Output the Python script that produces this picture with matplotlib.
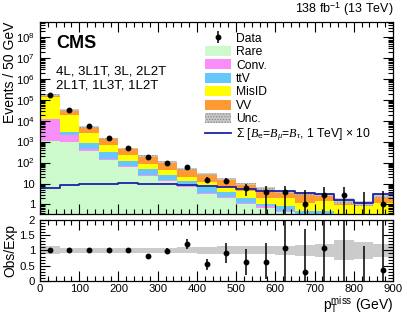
"""CMS-style stacked pTmiss distribution with Obs/Exp ratio panel."""

import matplotlib
matplotlib.use("Agg")
import matplotlib.pyplot as plt
import numpy as np
from matplotlib.lines import Line2D
from matplotlib.patches import Patch
from matplotlib.ticker import FixedLocator, FuncFormatter, MultipleLocator, LogLocator

plt.rcParams["font.family"] = ["Liberation Sans", "DejaVu Sans"]
plt.rcParams["mathtext.fontset"] = "custom"
plt.rcParams["mathtext.rm"] = "Liberation Sans"
plt.rcParams["mathtext.it"] = "Liberation Serif:italic"
plt.rcParams["mathtext.bf"] = "Liberation Sans:bold"
plt.rcParams["hatch.color"] = "#777777"
plt.rcParams["hatch.linewidth"] = 0.6

# ---- data ----
edges = np.arange(0, 901, 50)
rare = [1150, 1020, 380, 132, 59, 24, 13, 7, 3.2, 2.0, 1.0, 0.7, 0.45, 0.3, 0.3, 0.2, 0.2, 0.2]
conv = [11500, 1200, 80, 16, 7, 3, 1.5, 0.8, 0.4, 0.3, 0.2, 0.1, 0.05, 0.05, 0.05, 0.05, 0.05, 0.05]
ttv = [300, 900, 410, 177, 57, 25, 11.5, 5, 3.0, 1.5, 0.9, 0.2, 0.35, 0.15, 0.15, 0.05, 0.05, 0.05]
misid = [1.32e5, 1.59e4, 1930, 385, 102, 39, 18.5, 7, 4.9, 2.8, 2.4, 1.1, 1.25, 0.7, 1.0, 0.65, 0.55, 0.9]
vv = [2.9e4, 1.5e4, 2500, 740, 265, 123, 67, 32, 18.5, 10.4, 5.1, 3.8, 1.9, 2.1, 1.6, 0.55, 0.3, 1.4]
rel_unc = [0.13, 0.09, 0.09, 0.09, 0.09, 0.09, 0.09, 0.10, 0.11, 0.13, 0.13, 0.13,
           0.15, 0.17, 0.20, 0.33, 0.27, 0.20]
signal = [6.2, 8.8, 9.3, 9.8, 10.2, 9.8, 9.6, 8.7, 8.0, 6.6, 5.3, 4.3, 4.2, 3.5, 3.2, 1.6, 1.2, 3.2]

data = [1.7e5, 3.3e4, 5.5e3, 1450, 490, 186, 98, 59, 15, 14, 6, 4, 4, 1, 3, 3, 0, 1]
data_lo = [1.696e5, 3.28e4, 5.43e3, 1412, 468, 172, 88, 51, 10.5, 10, 2.6, 0.01, 0.01,
           0.01, 0.01, 0.01, 0.01, 0.01]
data_hi = [1.704e5, 3.32e4, 5.57e3, 1488, 512, 200, 108, 67, 20, 19.5, 10, 7.7, 7.5,
           5.0, 6.5, 6.5, 4.0, 4.5]

ratio = [1.0, 1.0, 1.0, 1.0, 1.02, 0.83, 0.98, 1.21, 0.54, 0.93, 0.61, 0.62, 1.09, 0.30,
         1.09, 2.2, 0.0, 0.36]
ratio_lo = [0.99, 0.99, 0.99, 0.99, 1.01, 0.81, 0.88, 1.06, 0.36, 0.60, 0.18, 0.06, 0.0,
            0.0, 0.0, 0.0, 0.0, 0.0]
ratio_hi = [1.01, 1.01, 1.01, 1.01, 1.03, 0.85, 1.08, 1.36, 0.71, 1.24, 1.04, 1.24, 2.5,
            1.71, 2.5, 3.0, 1.13, 2.5]

procs = [("Rare", rare, "#ccfacc"),
         ("Conv.", conv, "#f98df9"),
         ("ttV", ttv, "#66c8fa"),
         ("MisID", misid, "#ffff00"),
         ("VV", vv, "#ff9933")]
sig_color = "#1c22a8"


def step(vals):
    return np.append(vals, vals[-1])


def log_label(v, pos):
    if v <= 0:
        return ""
    e = int(round(np.log10(v)))
    if e == 0:
        return "1"
    if e == 1:
        return "10"
    return r"$10^{%d}$" % e


def main() -> None:
    fig = plt.figure(figsize=(4.07, 3.17), dpi=100)
    ax = fig.add_axes([0.0983, 0.325, 0.8673, 0.6055])
    rax = fig.add_axes([0.0983, 0.114, 0.8673, 0.192])

    centers = 0.5 * (edges[:-1] + edges[1:])
    bottom = np.zeros(len(centers))
    for name, vals, col in procs:
        vals = np.asarray(vals, dtype=float)
        ax.fill_between(edges, step(bottom), step(bottom + vals), step="post",
                        color=col, linewidth=0)
        bottom = bottom + vals
    total = bottom
    unc = total * np.asarray(rel_unc)
    ax.fill_between(edges, step(total - unc), step(total + unc), step="post",
                    facecolor="#c8c8c8", edgecolor="#8a8a8a", hatch="......",
                    linewidth=0, alpha=0.9)
    ax.step(edges, step(signal), where="post", color=sig_color, lw=1.3)

    data_a = np.asarray(data, dtype=float)
    ax.vlines(centers, data_lo, data_hi, color="black", lw=1.1)
    mask = data_a > 0
    ax.plot(centers[mask], data_a[mask], "o", color="black", ms=3.2)

    ax.set_yscale("log")
    ax.set_xlim(0, 900)
    ax.set_ylim(0.35, 5.5e8)
    ax.yaxis.set_major_locator(LogLocator(base=10, numticks=20))
    ax.yaxis.set_minor_locator(LogLocator(base=10, subs=np.arange(2, 10), numticks=20))
    ax.yaxis.set_major_formatter(FuncFormatter(log_label))
    ax.yaxis.set_minor_formatter(FuncFormatter(lambda v, p: ""))
    ax.xaxis.set_major_locator(MultipleLocator(100))
    ax.xaxis.set_minor_locator(MultipleLocator(20))
    ax.tick_params(axis="x", labelbottom=False)
    ax.set_ylabel("Events / 50 GeV", fontsize=10, loc="top")
    ax.yaxis.set_label_coords(-0.065, 1.0)

    # ratio panel
    rel = np.asarray(rel_unc)
    rax.fill_between(edges, step(1 - rel), step(1 + rel), step="post",
                     color="#cbcbcb", linewidth=0)
    rax.vlines(centers, ratio_lo, ratio_hi, color="black", lw=1.1)
    rmask = mask & (np.asarray(ratio) <= 2)
    rax.plot(centers[rmask], np.asarray(ratio)[rmask], "o", color="black", ms=3.2)
    rax.set_xlim(0, 900)
    rax.set_ylim(0, 2)
    rax.yaxis.set_major_locator(FixedLocator([0, 0.5, 1, 1.5, 2]))
    rax.yaxis.set_major_formatter(FuncFormatter(lambda v, p: f"{v:g}"))
    rax.yaxis.set_minor_locator(MultipleLocator(0.1))
    rax.xaxis.set_major_locator(MultipleLocator(100))
    rax.xaxis.set_minor_locator(MultipleLocator(20))
    rax.set_ylabel("Obs/Exp", fontsize=10)
    rax.yaxis.set_label_coords(-0.065, 0.5)
    rax.set_xlabel(r"$\mathrm{p}_{\mathrm{T}}^{\mathrm{miss}}$ (GeV)", fontsize=10,
                   loc="right", labelpad=1)

    for a in (ax, rax):
        a.tick_params(which="both", direction="in", top=True, right=True,
                      labelsize=8.2, width=0.8)
        a.tick_params(which="major", length=7)
        a.tick_params(which="minor", length=3.5)
        for s in a.spines.values():
            s.set_linewidth(0.9)
    rax.tick_params(axis="x", pad=2)

    # texts
    ax.text(0.045, 0.93, "CMS", transform=ax.transAxes, fontsize=13,
            fontweight="bold", va="top")
    ax.text(0.045, 0.775, "4L, 3L1T, 3L, 2L2T", transform=ax.transAxes,
            fontsize=9.5, va="top")
    ax.text(0.045, 0.70, "2L1T, 1L3T, 1L2T", transform=ax.transAxes,
            fontsize=9.5, va="top")
    ax.text(1.0, 1.02, r"138 fb$^{-1}$ (13 TeV)", transform=ax.transAxes,
            fontsize=9, ha="right", va="bottom")

    data_handle = (Line2D([], [], color="black", marker="|", ms=9, mew=1.1, linestyle=""),
                   Line2D([], [], color="black", marker="o", ms=3.2, linestyle=""))
    handles = [data_handle]
    labels = ["Data"]
    for name, vals, col in procs:
        handles.append(Patch(facecolor=col, edgecolor="none"))
        labels.append(name)
    handles.append(Patch(facecolor="#c8c8c8", edgecolor="#8a8a8a", hatch="......",
                         linewidth=0))
    labels.append("Unc.")
    handles.append(Line2D([], [], color=sig_color, lw=1.3))
    labels.append(r"$\Sigma$ [$B_{\rm e}$=$B_{\mu}$=$B_{\tau}$, 1 TeV] $\times$ 10")
    ax.legend(handles, labels, loc="upper left", bbox_to_anchor=(0.455, 0.97),
              frameon=False, fontsize=8.7, handlelength=2.1, handleheight=0.9,
              labelspacing=0.1, handletextpad=0.45, borderaxespad=0)

    fig.savefig("out.png", dpi=100)
    plt.close(fig)


if __name__ == "__main__":
    main()
